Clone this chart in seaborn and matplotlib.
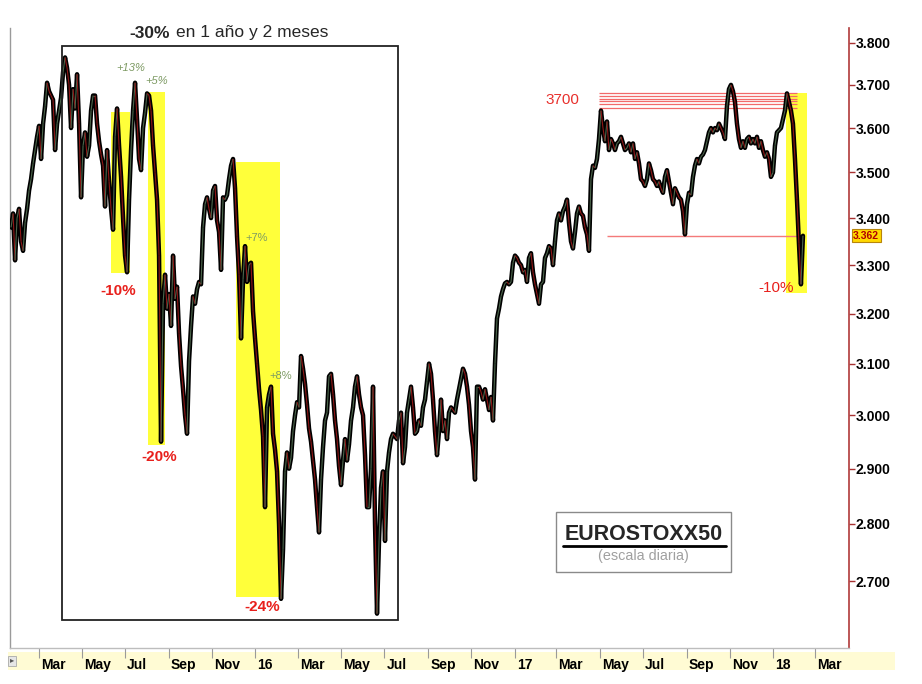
#!/usr/bin/env python
# -*- coding: utf-8 -*-
"""
EUROSTOXX50 daily chart, Jan 2015 - Feb 2018, with drawdown highlights.
"""

import matplotlib
matplotlib.use("Agg")
import matplotlib.pyplot as plt
import matplotlib.dates as mdates
from matplotlib.patches import Rectangle
from matplotlib.lines import Line2D
from matplotlib.collections import LineCollection
from matplotlib.ticker import FixedLocator, NullLocator, FuncFormatter
from matplotlib.transforms import ScaledTranslation, blended_transform_factory
import seaborn as sns
import pandas as pd
import numpy as np

sns.set_theme(style="white")
plt.rcParams['font.family'] = ['Liberation Sans', 'DejaVu Sans']

# data (one value every ~2 trading days)
first_day = "2015-01-21"
last_day = "2018-02-12"
closes = [
    3380, 3410, 3310, 3400, 3420, 3350, 3330, 3390, 3420, 3460,
    3485, 3520, 3550, 3580, 3605, 3530, 3610, 3650, 3705, 3685,
    3675, 3665, 3550, 3610, 3640, 3670, 3730, 3765, 3740, 3700,
    3600, 3690, 3645, 3725, 3610, 3445, 3560, 3590, 3535, 3560,
    3640, 3675, 3675, 3610, 3570, 3540, 3515, 3425, 3550, 3480,
    3420, 3375, 3580, 3645, 3560, 3490, 3400, 3320, 3285, 3440,
    3550, 3640, 3705, 3620, 3530, 3505, 3600, 3635, 3680, 3675,
    3640, 3560, 3500, 3440, 3320, 2950, 3220, 3280, 3210, 3240,
    3175, 3320, 3230, 3255, 3160, 3095, 3050, 3000, 2965, 3105,
    3175, 3235, 3220, 3250, 3265, 3260, 3380, 3430, 3445, 3420,
    3400, 3460, 3470, 3395, 3370, 3290, 3445, 3440, 3450, 3485,
    3515, 3530, 3465, 3360, 3280, 3150, 3270, 3340, 3265, 3300,
    3305, 3205, 3150, 3100, 3050, 3010, 2960, 2830, 3015, 3040,
    3055, 2965, 2935, 2895, 2800, 2670, 2755, 2895, 2930, 2900,
    2920, 2970, 3000, 3025, 3015, 3115, 3090, 3060, 3020, 2975,
    2950, 2915, 2880, 2830, 2785, 2880, 2940, 2990, 3005, 3075,
    3080, 3040, 2990, 2955, 2905, 2870, 2915, 2955, 2915, 2945,
    2990, 3015, 3055, 3075, 3040, 3015, 3000, 2925, 2830, 2830,
    2900, 3055, 2800, 2645, 2770, 2865, 2895, 2770, 2895, 2930,
    2955, 2965, 2960, 2955, 2990, 3005, 2910, 2940, 3005, 3030,
    3055, 3015, 2965, 2970, 2990, 2980, 3015, 3030, 3065, 3100,
    3080, 3030, 2970, 2925, 2970, 3030, 2970, 2990, 2955, 3005,
    3015, 3010, 3005, 3030, 3050, 3070, 3090, 3080, 3055, 3020,
    2970, 2940, 2880, 3055, 3055, 3045, 3030, 3050, 3030, 3010,
    3035, 2990, 3100, 3190, 3210, 3235, 3250, 3262, 3265, 3260,
    3265, 3305, 3320, 3315, 3305, 3300, 3285, 3290, 3265, 3315,
    3325, 3285, 3260, 3240, 3220, 3260, 3265, 3315, 3325, 3340,
    3335, 3300, 3350, 3395, 3410, 3395, 3415, 3425, 3440, 3390,
    3350, 3335, 3370, 3410, 3425, 3410, 3405, 3380, 3365, 3330,
    3485, 3515, 3510, 3530, 3575, 3640, 3600, 3570, 3615, 3550,
    3575, 3565, 3550, 3565, 3570, 3580, 3565, 3550, 3555, 3565,
    3545, 3565, 3530, 3545, 3520, 3485, 3480, 3470, 3485, 3520,
    3505, 3485, 3480, 3470, 3480, 3465, 3455, 3490, 3505, 3480,
    3455, 3430, 3465, 3455, 3445, 3440, 3415, 3365, 3430, 3455,
    3450, 3490, 3515, 3530, 3520, 3535, 3540, 3550, 3570, 3590,
    3600, 3590, 3600, 3595, 3610, 3600, 3590, 3575, 3650, 3690,
    3700, 3685, 3660, 3610, 3575, 3555, 3570, 3555, 3575, 3580,
    3565, 3575, 3565, 3580, 3555, 3570, 3550, 3535, 3545, 3530,
    3490, 3500, 3560, 3590, 3595, 3600, 3620, 3640, 3680, 3660,
    3640, 3610, 3530, 3440, 3345, 3260, 3362,
]
price_ticks = [2700, 2800, 2900, 3000, 3100, 3200, 3300, 3400, 3500, 3600, 3700, 3800]
month_ticks = pd.date_range("2015-03-01", "2018-03-01", freq="2MS")
month_names = {3: "Mar", 5: "May", 7: "Jul", 9: "Sep", 11: "Nov"}
resistance_levels = [3681, 3674, 3668, 3662, 3656, 3646]
support_level = 3362
last_price = 3362

# yellow drawdown zones: start, end, low, high
zones = [
    ("2015-06-11", "2015-07-08", 3284, 3637),
    ("2015-08-02", "2015-08-26", 2944, 3684),
    ("2015-12-05", "2016-02-05", 2673, 3523),
    ("2018-01-19", "2018-02-17", 3242, 3681),
]
drops = [
    ("2015-06-21", 3246, "-10%", "bold"),
    ("2015-08-18", 2922, "-20%", "bold"),
    ("2016-01-10", 2656, "-24%", "bold"),
    ("2018-01-05", 3253, "-10%", "normal"),
]
bounces = [
    ("2015-07-09", 3740, "+13%", "italic"),
    ("2015-08-15", 3709, "+5%", "italic"),
    ("2016-01-03", 3358, "+7%", "normal"),
    ("2016-02-06", 3076, "+8%", "normal"),
]

dates = pd.date_range(first_day, last_day, periods=len(closes))
df = pd.DataFrame({"fecha": dates, "cierre": closes})

W, H = 922, 684
fig = plt.figure(figsize=(W / 100, H / 100), dpi=100)
fig.patch.set_facecolor("white")
ax = fig.add_axes([10 / W, 36 / H, 839 / W, 620 / H])
ax.set_facecolor("white")

# light yellow date band below the plot
fig.add_artist(Rectangle((8 / W, 14 / H), 887 / W, 18 / H, transform=fig.transFigure,
                         facecolor="#fffbd4", edgecolor="none", zorder=0))

# highlight zones
for d0, d1, lo, hi in zones:
    x0 = mdates.date2num(pd.Timestamp(d0))
    x1 = mdates.date2num(pd.Timestamp(d1))
    ax.add_patch(Rectangle((x0, lo), x1 - x0, hi - lo, facecolor="#ffff3a",
                           edgecolor="none", zorder=1))

# the -30% box
bx0 = mdates.date2num(pd.Timestamp("2015-04-03"))
bx1 = mdates.date2num(pd.Timestamp("2016-07-20"))
ax.add_patch(Rectangle((bx0, 2634), bx1 - bx0, 3793 - 2634, facecolor="none",
                       edgecolor="#222222", linewidth=1.3, zorder=5))

# resistance / support lines
ax.hlines(resistance_levels, pd.Timestamp("2017-04-30"), pd.Timestamp("2018-02-04"),
          color="#f26a6a", linewidth=0.9, zorder=2)
ax.hlines(support_level, pd.Timestamp("2017-05-11"), pd.Timestamp("2018-02-06"),
          color="#f47a7a", linewidth=1.0, zorder=2)

# price line
sns.lineplot(data=df, x="fecha", y="cierre", color="black", linewidth=3.2, ax=ax, zorder=3)

# candle-like colouring on top
xs = mdates.date2num(df["fecha"])
pts = np.column_stack([xs, df["cierre"].to_numpy(dtype=float)])
segs = np.stack([pts[:-1], pts[1:]], axis=1)
up = np.diff(df["cierre"].to_numpy()) >= 0
lc = LineCollection(segs, colors=list(np.where(up, "#4c664c", "#8e1616")),
                    linewidths=0.8, zorder=4)
ax.add_collection(lc)

# axes scales
ax.set_yscale("log")
ax.set_ylim(2588, 3836)
ax.set_xlim(pd.Timestamp("2015-01-19 12:00"), pd.Timestamp("2018-04-18"))
ax.set_xlabel("")
ax.set_ylabel("")

ax.yaxis.tick_right()
ax.yaxis.set_major_locator(FixedLocator(price_ticks))
ax.yaxis.set_minor_locator(NullLocator())
ax.yaxis.set_major_formatter(FuncFormatter(lambda v, p: f"{v:,.0f}".replace(",", ".")))
ax.tick_params(axis="y", which="major", right=True, left=False, length=4, width=1,
               color="#a83232", labelsize=10, labelcolor="black", pad=1)
plt.setp(ax.get_yticklabels(), fontweight="bold")

labels = [f"{d.year % 100:02d}" if d.month == 1 else month_names[d.month] for d in month_ticks]
ax.set_xticks(month_ticks, labels)
ax.xaxis.set_minor_locator(NullLocator())
ax.tick_params(axis="x", which="major", bottom=True, length=7, width=0.8,
               color="#9a9a9a", labelsize=10, labelcolor="black", pad=0)
shift = ScaledTranslation(2 / 100, 0, fig.dpi_scale_trans)
for lbl in ax.get_xticklabels():
    lbl.set_fontweight("bold")
    lbl.set_horizontalalignment("left")
    lbl.set_transform(lbl.get_transform() + shift)

ax.spines["top"].set_visible(False)
ax.spines["left"].set_color("#9a9a9a")
ax.spines["left"].set_linewidth(1)
ax.spines["right"].set_color("#b03a3a")
ax.spines["right"].set_linewidth(1.2)
ax.spines["bottom"].set_color("#bdbdbd")
ax.spines["bottom"].set_linewidth(1)
ax.grid(False)
if ax.get_legend():
    ax.get_legend().remove()

# annotations
for d, v, txt, wt in drops:
    ax.text(pd.Timestamp(d), v, txt, color="#e8201c", fontsize=11, fontweight=wt,
            ha="center", va="center", zorder=6)
for d, v, txt, st in bounces:
    ax.text(pd.Timestamp(d), v, txt, color="#7d9a63", fontsize=8, fontstyle=st,
            ha="center", va="center", zorder=6)
ax.text(pd.Timestamp("2017-03-09"), 3665, "3700", color="#e8302c", fontsize=11,
        ha="center", va="center", zorder=6)

# last price tag on the axis
tag_tr = blended_transform_factory(ax.transAxes, ax.transData)
ax.text(1.005, last_price, f"{last_price:,.0f}".replace(",", "."), transform=tag_tr,
        color="#b00000", fontsize=7.5, fontweight="bold", ha="left", va="center",
        bbox=dict(boxstyle="square,pad=0.15", facecolor="#ffd800", edgecolor="#b8860b",
                  linewidth=0.8), zorder=7)

# title
fig.text(170 / W, 1 - 33 / H, "-30%", fontsize=12.5, fontweight="bold",
         ha="right", va="center")
fig.text(176 / W, 1 - 33 / H, "en 1 año y 2 meses", fontsize=12.5,
         ha="left", va="center")

# EUROSTOXX50 label box
fig.add_artist(Rectangle((556 / W, 112 / H), 175 / W, 60 / H, transform=fig.transFigure,
                         facecolor="white", edgecolor="#8a8a8a", linewidth=1, zorder=6))
fig.text(644 / W, 1 - 535 / H, "EUROSTOXX50", fontsize=15.5, fontweight="bold",
         ha="center", va="center", zorder=7)
fig.add_artist(Line2D([563 / W, 726 / W], [1 - 546 / H, 1 - 546 / H],
                      transform=fig.transFigure, color="black", linewidth=2, zorder=7))
fig.text(643 / W, 1 - 556 / H, "(escala diaria)", fontsize=10.4, color="#a0a0a0",
         ha="center", va="center", zorder=7)

# small scroll marker at the left of the date band
fig.text(12 / W, 1 - 661 / H, "▸", fontsize=6, color="#555555", ha="center", va="center",
         bbox=dict(boxstyle="square,pad=0.2", facecolor="#e6e6e6", edgecolor="#aaaaaa",
                   linewidth=0.6))

fig.savefig("out.png", dpi=100)
plt.close(fig)
